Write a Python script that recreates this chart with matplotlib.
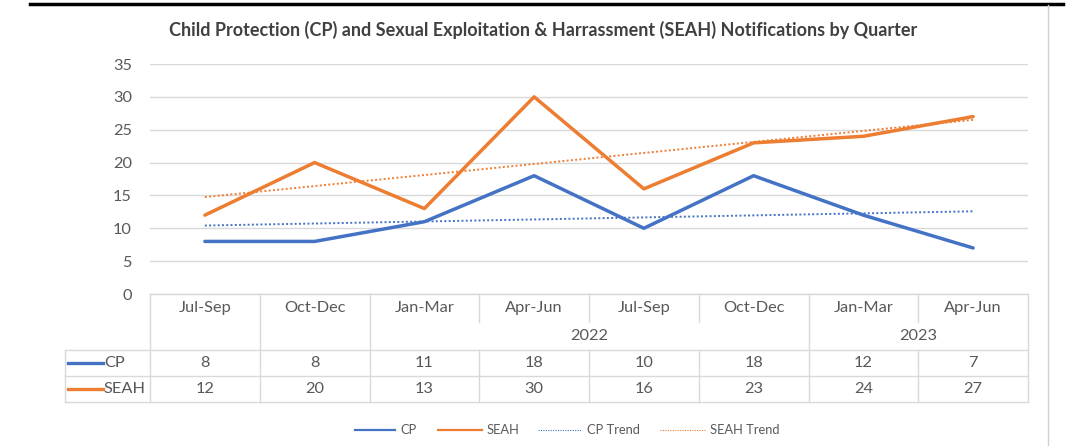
"""Excel-style line chart with a data table: CP and SEAH notifications by quarter."""

import numpy as np
import matplotlib
matplotlib.use("Agg")
import matplotlib.pyplot as plt
from matplotlib.lines import Line2D

plt.rcParams["font.family"] = ["Lato", "DejaVu Sans"]

quarters = ["Jul-Sep", "Oct-Dec", "Jan-Mar", "Apr-Jun",
            "Jul-Sep", "Oct-Dec", "Jan-Mar", "Apr-Jun"]
# year groups: (label, first column, last column)
year_groups = [("", 0, 0), ("", 1, 1), ("2022", 2, 5), ("2023", 6, 7)]
cp = [8, 8, 11, 18, 10, 18, 12, 7]
seah = [12, 20, 13, 30, 16, 23, 24, 27]
title = ("Child Protection (CP) and Sexual Exploitation & Harrassment (SEAH) "
         "Notifications by Quarter")

BLUE = "#4472C4"
ORANGE = "#ED7D31"
GRID = "#D9D9D9"
TXT = "#595959"
FS = 11.8

W, H = 1090, 446
fig = plt.figure(figsize=(W / 100, H / 100), dpi=100)

# plot area in pixels
X0, X1, YT, YB = 150, 1028, 64, 294
ax = fig.add_axes([X0 / W, 1 - YB / H, (X1 - X0) / W, (YB - YT) / H])
x = np.arange(len(quarters))
ax.set_xlim(-0.5, len(quarters) - 0.5)
ax.set_ylim(0, 35)
ax.set_yticks(np.arange(0, 36, 5))
ax.yaxis.grid(True, color=GRID, linewidth=1)
ax.set_axisbelow(True)
ax.set_xticks([])
ax.tick_params(axis="y", length=0, pad=13, labelsize=FS, labelcolor=TXT)
for s in ax.spines.values():
    s.set_visible(False)

ax.plot(x, cp, color=BLUE, lw=2.5, solid_capstyle="round", zorder=3)
ax.plot(x, seah, color=ORANGE, lw=2.5, solid_capstyle="round", zorder=3)
for vals, col in ((cp, BLUE), (seah, ORANGE)):
    k, b = np.polyfit(x, vals, 1)
    ax.plot(x, k * x + b, color=col, lw=1.4, ls=(0, (1, 1.2)), zorder=2)

# overlay in pixel coordinates for table, title, legend, frame
ov2 = fig.add_axes([0, 0, 1, 1], zorder=5)
ov2.set_xlim(0, W)
ov2.set_ylim(H, 0)
ov2.axis("off")
ov2.patch.set_alpha(0)

ov2.plot([30, 1063], [4, 4], color="black", lw=2.5)
ov2.plot([1048, 1048], [5, H], color="#D0D0D0", lw=1)

ov2.text(543, 30, title, ha="center", va="center", fontsize=13,
         fontweight="bold", color="#404040")

cw = (X1 - X0) / len(quarters)
R0, R1, R2, R3, R4 = 294, 322, 350, 376, 402
LX = 65
lc = dict(color=GRID, lw=1)
ov2.plot([X0, X1], [R0, R0], **lc)
for yy in (R2, R3, R4):
    ov2.plot([LX, X1], [yy, yy], **lc)
ov2.plot([LX, LX], [R2, R4], **lc)
# vertical lines: full height at year group edges, header-top only inside groups
edges = {g[1] for g in year_groups} | {len(quarters)}
for i in range(len(quarters) + 1):
    xx = X0 + i * cw
    top_end = R4 if i in edges else R1
    ov2.plot([xx, xx], [R0, top_end], **lc)
    if i not in edges:
        ov2.plot([xx, xx], [R2, R4], **lc)

for i, q in enumerate(quarters):
    cx = X0 + (i + 0.5) * cw
    ov2.text(cx, 308, q, ha="center", va="center", fontsize=FS, color=TXT)
    ov2.text(cx, 363, str(cp[i]), ha="center", va="center", fontsize=FS, color=TXT)
    ov2.text(cx, 389, str(seah[i]), ha="center", va="center", fontsize=FS, color=TXT)
for label, a, b in year_groups:
    if label:
        ov2.text(X0 + (a + b + 1) / 2 * cw, 336, label, ha="center",
                 va="center", fontsize=FS, color=TXT)

for yy, name, col in ((363, "CP", BLUE), (389, "SEAH", ORANGE)):
    ov2.plot([68, 103], [yy, yy], color=col, lw=2.4)
    ov2.text(104, yy, name, ha="left", va="center", fontsize=FS, color=TXT)

# legend
leg = [
    (355, 395, "CP", BLUE, "-", 1.6),
    (438, 482, "SEAH", ORANGE, "-", 1.6),
    (538, 582, "CP Trend", BLUE, (0, (1, 1.2)), 0.8),
    (660, 705, "SEAH Trend", ORANGE, (0, (1, 1.2)), 0.8),
]
for xa, xb, name, col, ls, lw in leg:
    ov2.add_line(Line2D([xa, xb], [430, 430], color=col, ls=ls, lw=lw))
    ov2.text(xb + 5, 430, name, ha="left", va="center", fontsize=9.3, color=TXT)

fig.savefig("out.png", dpi=100)
